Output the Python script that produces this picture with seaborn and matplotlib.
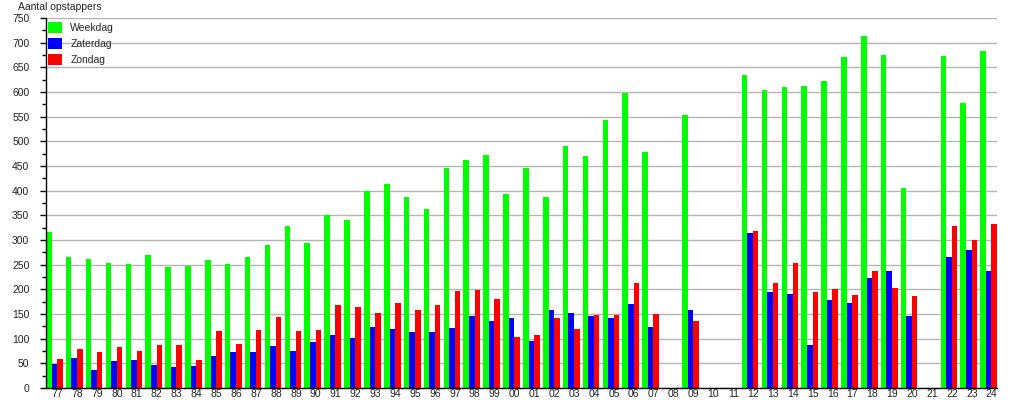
import numpy as np
import pandas as pd
import matplotlib
matplotlib.use('Agg')
import matplotlib.pyplot as plt
from matplotlib.ticker import MultipleLocator
import seaborn as sns

# Jaartallen (77 t/m 24)
years = ['77', '78', '79', '80', '81', '82', '83', '84', '85', '86', '87', '88',
         '89', '90', '91', '92', '93', '94', '95', '96', '97', '98', '99', '00',
         '01', '02', '03', '04', '05', '06', '07', '08', '09', '10', '11', '12',
         '13', '14', '15', '16', '17', '18', '19', '20', '21', '22', '23', '24']
nan = np.nan
weekdag = [316, 265, 262, 253, 251, 269, 245, 247, 259, 251, 265, 289,
           328, 293, 350, 340, 400, 413, 387, 363, 445, 463, 473, 393,
           445, 387, 490, 470, 543, 597, 479, nan, 553, nan, nan, 634,
           604, 610, 612, 622, 671, 714, 675, 405, nan, 673, 578, 683]
zaterdag = [48, 60, 36, 54, 56, 46, 42, 44, 64, 72, 72, 86,
            76, 94, 108, 102, 124, 120, 114, 114, 122, 145, 135, 142,
            96, 158, 153, 145, 142, 170, 124, nan, 159, nan, nan, 314,
            195, 191, 87, 178, 172, 223, 237, 146, nan, 266, 280, 237]
zondag = [58, 80, 72, 84, 74, 88, 88, 56, 115, 90, 117, 143,
          115, 117, 168, 164, 153, 173, 158, 168, 196, 198, 180, 103,
          108, 142, 120, 147, 147, 212, 151, nan, 135, nan, nan, 318,
          213, 253, 195, 201, 189, 237, 203, 187, nan, 328, 300, 332]
series = ['Weekdag', 'Zaterdag', 'Zondag']
colors = {'Weekdag': '#00ff00', 'Zaterdag': '#0000ff', 'Zondag': '#ff0000'}

df = pd.DataFrame({
    'jaar': years * 3,
    'dag': ['Weekdag'] * len(years) + ['Zaterdag'] * len(years) + ['Zondag'] * len(years),
    'aantal': weekdag + zaterdag + zondag,
})

sns.set_style('white')
plt.rcParams['font.family'] = ['Liberation Sans', 'DejaVu Sans']

fig = plt.figure(figsize=(10.15, 4), dpi=100)
ax = fig.add_axes([46 / 1015, 12 / 400, 951 / 1015, 370 / 400])

sns.barplot(data=df, x='jaar', y='aantal', hue='dag', order=years,
            hue_order=series, palette=colors, width=0.84, saturation=1,
            linewidth=0, errorbar=None, ax=ax)

ax.set_xlim(-0.42, len(years) - 1 + 0.42)
ax.set_ylim(0, 750)
ax.set_xlabel('')
ax.set_ylabel('')

# x labels slightly to the right of group centre, as in the original
ax.set_xticks(np.arange(len(years)) + 0.15)
ax.set_xticklabels(years)
ax.tick_params(axis='x', length=0, pad=1, labelsize=7.5, colors='#222222')

ax.yaxis.set_major_locator(MultipleLocator(50))
ax.yaxis.set_minor_locator(MultipleLocator(25))
ax.tick_params(axis='y', which='major', length=4, width=1, color='black',
               left=True, labelsize=7.5, pad=8, labelcolor='#222222')
ax.tick_params(axis='y', which='minor', length=3, width=1, color='black', left=True)

ax.grid(axis='y', which='major', color='#b4b4b4', linewidth=1)
ax.set_axisbelow(True)

for side in ['top', 'right']:
    ax.spines[side].set_visible(False)
for side in ['left', 'bottom']:
    ax.spines[side].set_color('black')
    ax.spines[side].set_linewidth(1)

handles, labels = ax.get_legend_handles_labels()
ax.legend(handles, labels, loc='upper left', bbox_to_anchor=(2 / 951, 1 - 4 / 370),
          frameon=False, fontsize=7.5, handlelength=1.3, handleheight=1.3,
          handletextpad=0.85, labelspacing=0.45, borderpad=0, borderaxespad=0)

fig.text(18 / 1015, 1 - 2 / 400, 'Aantal opstappers', ha='left', va='top',
         fontsize=7.5, color='#222222')

fig.savefig('out.png', dpi=100)
